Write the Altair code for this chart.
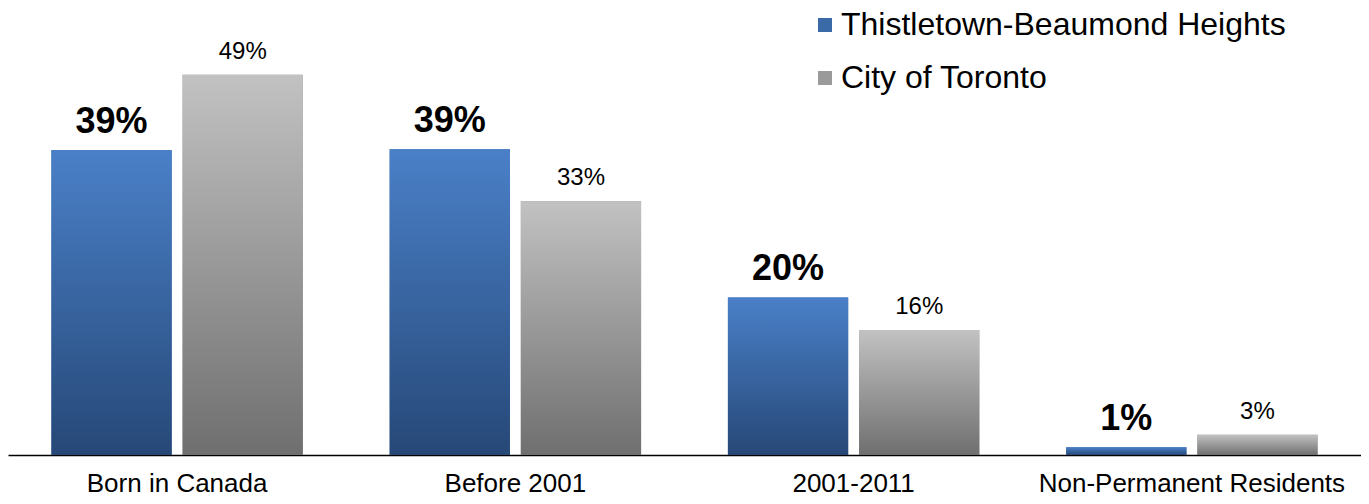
import altair as alt
import pandas as pd

categories = ["Born in Canada", "Before 2001", "2001-2011", "Non-Permanent Residents"]
series = ["Thistletown-Beaumond Heights", "City of Toronto"]
local_values = [39.3, 39.4, 20.3, 1.0]
city_values = [49.0, 32.7, 16.1, 2.6]
local_labels = ["39%", "39%", "20%", "1%"]
city_labels = ["49%", "33%", "16%", "3%"]

rows = []
for c, v, l in zip(categories, local_values, local_labels):
    rows.append({"category": c, "series": series[0], "value": v, "label": l})
for c, v, l in zip(categories, city_values, city_labels):
    rows.append({"category": c, "series": series[1], "value": v, "label": l})
df = pd.DataFrame(rows)

FONT = "Liberation Sans"

x_enc = alt.X(
    "category:N",
    sort=categories,
    scale=alt.Scale(paddingInner=0, paddingOuter=0),
    axis=alt.Axis(
        title=None, labelAngle=0, ticks=False, domainColor="black", domainWidth=1.5,
        labelFontSize=26, labelColor="black", labelFont=FONT, labelPadding=15,
        labelLimit=500, grid=False,
    ),
)
xoff_enc = alt.XOffset(
    "series:N", sort=series,
    scale=alt.Scale(paddingInner=0.083, paddingOuter=0.331),
)
y_enc = alt.Y("value:Q", scale=alt.Scale(domain=[0, 57.6], nice=False), axis=None)

base = alt.Chart(df).encode(x=x_enc, xOffset=xoff_enc, y=y_enc)

legend_bars = base.mark_bar().encode(
    color=alt.Color(
        "series:N", sort=series,
        scale=alt.Scale(domain=series, range=["#3b6aa8", "#9a9a9a"]),
        legend=alt.Legend(
            title=None, orient="none", legendX=801, legendY=1,
            symbolType="square", symbolSize=196, symbolStrokeWidth=0,
            labelFontSize=32, labelFont=FONT, labelColor="black",
            rowPadding=21, padding=0, labelOffset=0, labelLimit=700,
        ),
    )
)

blue_grad = alt.Gradient(
    gradient="linear",
    stops=[alt.GradientStop(color="#4a80c8", offset=0), alt.GradientStop(color="#264877", offset=1)],
    x1=0, x2=0, y1=0, y2=1,
)
gray_grad = alt.Gradient(
    gradient="linear",
    stops=[alt.GradientStop(color="#c2c2c2", offset=0), alt.GradientStop(color="#6f6f6f", offset=1)],
    x1=0, x2=0, y1=0, y2=1,
)

blue_bars = base.mark_bar(color=blue_grad).transform_filter(alt.datum.series == series[0])
gray_bars = base.mark_bar(color=gray_grad).transform_filter(alt.datum.series == series[1])

blue_text = base.mark_text(
    fontSize=36, fontWeight="bold", font=FONT, color="black", baseline="alphabetic", dy=-17
).encode(text="label:N").transform_filter(alt.datum.series == series[0])
gray_text = base.mark_text(
    fontSize=24, font=FONT, color="black", baseline="alphabetic", dy=-16
).encode(text="label:N").transform_filter(alt.datum.series == series[1])

chart = alt.layer(legend_bars, blue_bars, gray_bars, blue_text, gray_text).properties(
    width=1353, height=488,
    autosize=alt.AutoSizeParams(type="fit", contains="padding"),
    padding={"left": 0, "right": 0, "top": 0, "bottom": 0},
    background="white",
).configure_view(stroke=None)

chart.save("out.html", embed_options={"renderer": "svg", "actions": False})
